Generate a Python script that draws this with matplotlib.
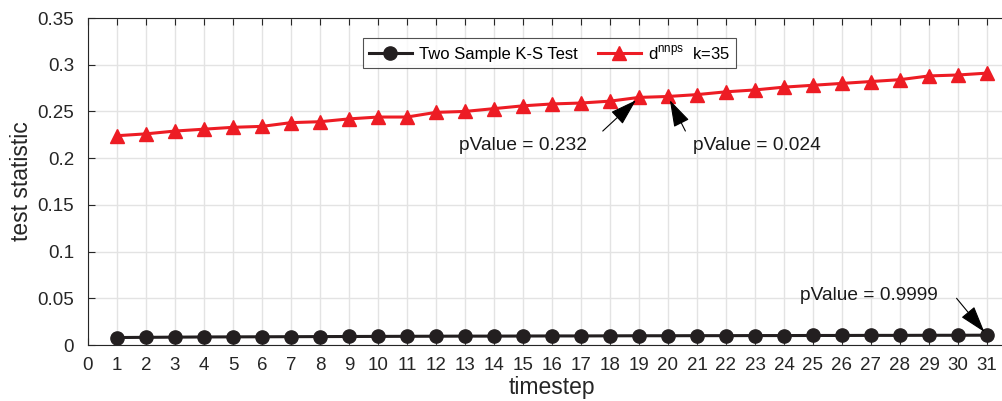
import numpy as np
import matplotlib.pyplot as plt

plt.rcParams['font.family'] = ['Liberation Sans', 'DejaVu Sans']
plt.rcParams['mathtext.fontset'] = 'custom'
plt.rcParams['mathtext.rm'] = 'Liberation Sans'

timestep = np.arange(1, 32)
ks_test = [0.0080, 0.0082, 0.0084, 0.0086, 0.0087, 0.0088, 0.0089, 0.0090, 0.0091, 0.0092,
           0.0093, 0.0094, 0.0095, 0.0095, 0.0096, 0.0097, 0.0097, 0.0098, 0.0099, 0.0099,
           0.0100, 0.0100, 0.0101, 0.0101, 0.0102, 0.0102, 0.0103, 0.0103, 0.0104, 0.0104, 0.0105]
d_nnps = [0.224, 0.226, 0.229, 0.231, 0.233, 0.234, 0.238, 0.239, 0.242, 0.244,
          0.244, 0.249, 0.250, 0.253, 0.256, 0.258, 0.259, 0.261, 0.265, 0.266,
          0.268, 0.271, 0.273, 0.276, 0.278, 0.280, 0.282, 0.284, 0.288, 0.289, 0.291]

fig = plt.figure(figsize=(10.03, 4.01), dpi=100)
ax = fig.add_axes([88/1003, 56/401, 928/1003, 327/401])

ax.plot(timestep, ks_test, '-o', color='#231f20', lw=2.2, ms=9.5, label='Two Sample K-S Test')
ax.plot(timestep, d_nnps, '-^', color='#ed1c24', lw=2.2, ms=10.5,
        label=r'd$^{\mathrm{nnps}}$  k=35')

ax.set_xlim(0, 32)
ax.set_ylim(0, 0.35)
ax.set_xticks(np.arange(0, 32))
ax.set_yticks(np.arange(0, 0.36, 0.05))
ax.set_yticklabels(['0', '0.05', '0.1', '0.15', '0.2', '0.25', '0.3', '0.35'])
ax.grid(True, color='#e3e3e3', lw=1)
ax.set_axisbelow(True)
ax.tick_params(direction='in', length=5, labelsize=13.5, colors='#262626',
               top=True, right=False)
ax.tick_params(axis='y', pad=10)
ax.tick_params(axis='x', pad=9)
for s in ['left', 'bottom', 'top']:
    ax.spines[s].set_color('#262626')
ax.spines['right'].set_visible(False)
ax.set_xlabel('timestep', fontsize=16.5, color='#262626', labelpad=1)
ax.set_ylabel('test statistic', fontsize=16.5, color='#262626', labelpad=3)

leg = ax.legend(loc='upper center', bbox_to_anchor=(0.497, 0.965), ncol=2, fontsize=12,
                frameon=True, fancybox=False, edgecolor='#262626', handlelength=2.6,
                columnspacing=1.2, borderpad=0.35, handletextpad=0.4)
leg.get_frame().set_linewidth(0.8)

arrow = dict(arrowstyle='-|>,head_length=0.7,head_width=0.22', color='black', lw=0.8,
             mutation_scale=24, shrinkA=0, shrinkB=3)
ax.annotate('', xy=(19, d_nnps[18]), xytext=(17.75, 0.229), arrowprops=arrow)
ax.annotate('', xy=(20, d_nnps[19]), xytext=(20.6, 0.229), arrowprops=arrow)
ax.annotate('', xy=(31, ks_test[30]), xytext=(29.95, 0.050), arrowprops=arrow)
ax.text(12.78, 0.214, 'pValue = 0.232', fontsize=13.8, va='center', color='#1a1a1a')
ax.text(20.87, 0.214, 'pValue = 0.024', fontsize=13.8, va='center', color='#1a1a1a')
ax.text(24.56, 0.0535, 'pValue = 0.9999', fontsize=13.8, va='center', color='#1a1a1a')

fig.savefig('out.png', dpi=100)
